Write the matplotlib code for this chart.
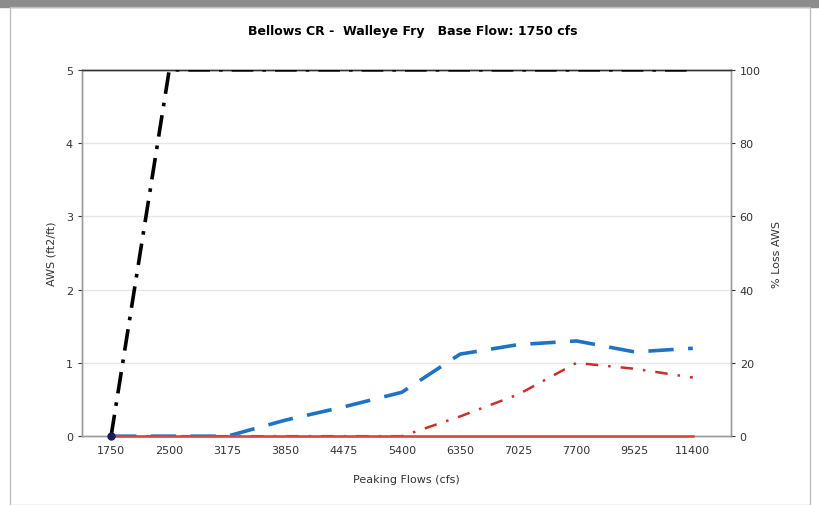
import matplotlib.pyplot as plt
from matplotlib.patches import Rectangle

# Данные
flows = ["1750", "2500", "3175", "3850", "4475", "5400", "6350", "7025", "7700", "9525", "11400"]
aws_blue = [0, 0, 0, 0.22, 0.4, 0.6, 1.12, 1.25, 1.3, 1.15, 1.2]
aws_red = [0, 0, 0, 0, 0, 0, 0.27, 0.57, 1.0, 0.92, 0.8]
loss_base = [0] * 11
loss_black = [0, 100, 100, 100, 100, 100, 100, 100, 100, 100, 100]

x = list(range(len(flows)))

fig = plt.figure(figsize=(8.2, 5.06), dpi=100)
# рамка как на скриншоте
fig.patches.append(Rectangle((0, 0.985), 1, 0.015, transform=fig.transFigure,
                             color="#8c8c8c", zorder=0))
fig.patches.append(Rectangle((0.012, 0.0), 0.976, 0.985, transform=fig.transFigure,
                             fill=False, edgecolor="#bdbdbd", lw=1, zorder=0))

ax = fig.add_axes([0.1, 0.136, 0.791, 0.724])
ax2 = ax.twinx()

ax.set_xlim(-0.5, 10.65)
ax.set_ylim(0, 5)
ax2.set_ylim(0, 100)

ax.set_yticks(range(6))
ax2.set_yticks(range(0, 101, 20))
ax.set_xticks(x)
ax.set_xticklabels(flows)

for y in range(1, 5):
    ax.axhline(y, color="#e6e6e6", lw=1, zorder=0)

ax.plot(x, aws_blue, color="#1f73c4", lw=2.6, dashes=(7, 4), zorder=3)
ax.plot(x, aws_red, color="#c9302c", lw=1.8, dashes=(5, 4, 1, 4), zorder=3)
ax2.plot(x, loss_base, color="#e0403c", lw=1.8, zorder=6, clip_on=False)
ax2.plot([0], [0], "o", color="#1a1a5e", ms=5, zorder=7, clip_on=False)
ax2.plot(x, loss_black, color="black", lw=2.6, dashes=(6, 2.5, 1, 2.5), zorder=4)

for a in (ax, ax2):
    for s in a.spines.values():
        s.set_color("#9a9a9a")
        s.set_linewidth(1)
    a.tick_params(labelsize=8, colors="#333333", length=3, width=0.8)
ax.spines["top"].set_color("#333333")
ax2.spines["top"].set_color("#333333")
ax.tick_params(axis="x", length=0, pad=6)

ax.set_ylabel("AWS (ft2/ft)", fontsize=8, color="#333333", labelpad=7)
ax2.set_ylabel("% Loss AWS", fontsize=8, color="#333333", labelpad=8)
ax.set_xlabel("Peaking Flows (cfs)", fontsize=8, color="#333333", labelpad=14)
fig.text(0.503, 0.938, "Bellows CR -  Walleye Fry   Base Flow: 1750 cfs",
         ha="center", va="center", fontsize=9, fontweight="bold")

plt.savefig("out.png", dpi=100)
